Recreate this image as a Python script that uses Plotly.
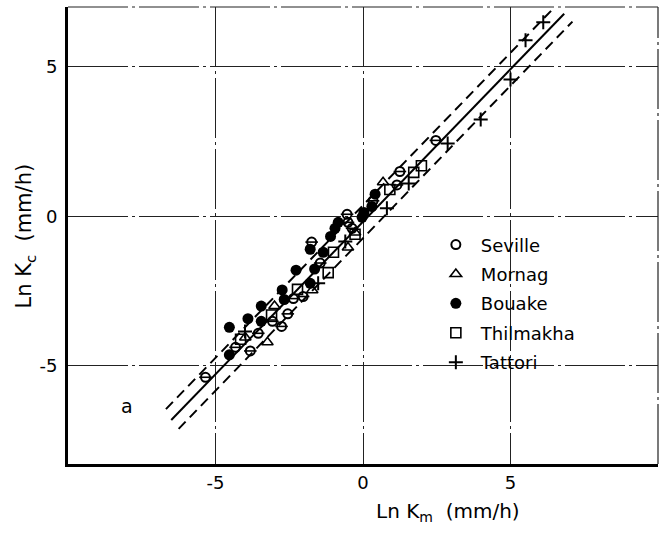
import plotly.graph_objects as go

# ---- data (Ln Km, Ln Kc) per site ----
seville_x = [-5.34, -4.32, -3.82, -3.55, -3.07, -2.76, -2.55, -2.36, -2.03, -1.45, -1.74, -0.51, -0.54, -0.37, 0.34, 1.15, 1.25, 2.47]
seville_y = [-5.38, -4.38, -4.50, -3.91, -3.51, -3.68, -3.26, -2.75, -2.68, -1.56, -0.86, -0.20, 0.07, -0.40, 0.52, 1.05, 1.50, 2.54]

mornag_x = [-3.99, -3.24, -3.00, -1.72, -0.51, -0.27, 0.68]
mornag_y = [-4.05, -4.21, -3.00, -2.47, -1.04, -0.54, 1.14]

bouake_x = [-4.53, -4.53, -3.90, -3.45, -3.45, -2.74, -2.67, -2.27, -1.79, -1.79, -1.64, -1.35, -1.10, -0.95, -0.84, -0.03, 0.03, 0.30, 0.41]
bouake_y = [-3.71, -4.63, -3.42, -3.00, -3.51, -2.46, -2.78, -1.80, -2.24, -1.10, -1.76, -1.20, -0.67, -0.40, -0.20, -0.03, 0.13, 0.33, 0.74]

thilmakha_x = [-4.15, -3.10, -2.22, -1.18, -1.00, -0.27, 0.91, 1.72, 1.98]
thilmakha_y = [-4.11, -3.30, -2.44, -1.88, -1.20, -0.60, 0.90, 1.47, 1.69]

tattori_x = [-4.00, -1.52, -0.60, 0.81, 1.55, 2.87, 3.99, 5.00, 5.51, 6.11]
tattori_y = [-3.85, -2.24, -0.84, 0.27, 1.10, 2.44, 3.24, 4.58, 5.89, 6.49]

# regression line and confidence band
fit_slope = 1.02
fit_intercept = -0.18
band_half_width = 0.55
fit_x = [-6.50, 6.82]
upper_x = [-6.68, 6.42]
lower_x = [-6.25, 7.10]

tick_vals = [-5, 0, 5]
tick_text = ["-5", "0", "5"]

FONT = "DejaVu Sans"

fig = go.Figure()

def line_y(xs, off):
    return [fit_slope * v + fit_intercept + off for v in xs]

fig.add_trace(go.Scatter(x=fit_x, y=line_y(fit_x, 0), mode="lines",
                         line=dict(color="black", width=2), showlegend=False, hoverinfo="skip"))
fig.add_trace(go.Scatter(x=upper_x, y=line_y(upper_x, band_half_width), mode="lines",
                         line=dict(color="black", width=2, dash="10px,6px"), showlegend=False, hoverinfo="skip"))
fig.add_trace(go.Scatter(x=lower_x, y=line_y(lower_x, -band_half_width), mode="lines",
                         line=dict(color="black", width=2, dash="10px,6px"), showlegend=False, hoverinfo="skip"))

mk_line = dict(color="black", width=2)

fig.add_trace(go.Scatter(x=seville_x, y=seville_y, mode="markers", name="Seville", legendgroup="a",
                         marker=dict(symbol="circle-open", size=9, color="black", line=mk_line)))
fig.add_trace(go.Scatter(x=seville_x, y=seville_y, mode="markers", showlegend=False, legendgroup="a",
                         marker=dict(symbol="line-ew", size=9, color="black", line=dict(color="black", width=1.6))))
fig.add_trace(go.Scatter(x=mornag_x, y=mornag_y, mode="markers", name="Mornag", legendgroup="b",
                         marker=dict(symbol="triangle-up-open", size=10, color="black", line=dict(color="black", width=1.6))))
fig.add_trace(go.Scatter(x=bouake_x, y=bouake_y, mode="markers", name="Bouake", legendgroup="c",
                         marker=dict(symbol="circle", size=11, color="black")))
fig.add_trace(go.Scatter(x=thilmakha_x, y=thilmakha_y, mode="markers", name="Thilmakha", legendgroup="d",
                         marker=dict(symbol="square-open", size=10, color="black", line=dict(color="black", width=1.6))))
fig.add_trace(go.Scatter(x=tattori_x, y=tattori_y, mode="markers", name="Tattori", legendgroup="e",
                         marker=dict(symbol="cross-thin-open", size=10, color="black", line=dict(color="black", width=2))))

grid_dash = "60px,4px,3px,4px"
axis_common = dict(
    tickvals=tick_vals, ticktext=tick_text, ticks="", showgrid=True,
    gridcolor="#222", gridwidth=1, griddash=grid_dash, zeroline=False,
    showline=True, linecolor="black", linewidth=3,
    tickfont=dict(family=FONT, size=18, color="black"),
)
fig.update_xaxes(range=[-10, 10], **axis_common)
fig.update_yaxes(range=[-8.28, 7.0], ticklabelstandoff=4, **axis_common)

# top & right borders (dashed like the grid)
fig.add_shape(type="line", xref="paper", yref="paper", x0=0, x1=1, y0=1, y1=1,
              line=dict(color="#222", width=1.2, dash=grid_dash))
fig.add_shape(type="line", xref="paper", yref="paper", x0=1, x1=1, y0=0, y1=1,
              line=dict(color="#222", width=1.2, dash=grid_dash))

fig.add_annotation(text="Ln K<sub>m</sub>  (mm/h)", xref="paper", yref="paper",
                   x=0.644, y=-0.072, xanchor="center", yanchor="top", showarrow=False,
                   font=dict(family=FONT, size=20, color="black"))
fig.add_annotation(text="Ln K<sub>c</sub>  (mm/h)", xref="paper", yref="paper",
                   x=-0.073, y=0.5, xanchor="center", yanchor="middle", textangle=-90, showarrow=False,
                   font=dict(family=FONT, size=21, color="black"))
fig.add_annotation(text="a", x=-8.0, y=-6.35, showarrow=False,
                   font=dict(family=FONT, size=19, color="black"))

fig.update_layout(
    width=670, height=534,
    margin=dict(l=68, r=12, t=7, b=70),
    paper_bgcolor="white", plot_bgcolor="white",
    showlegend=True,
    legend=dict(x=0.615, y=0.52, xanchor="left", yanchor="top", bgcolor="rgba(0,0,0,0)",
                font=dict(family=FONT, size=18, color="black"), tracegroupgap=3, itemwidth=40),
)

fig.write_html("out.html")
